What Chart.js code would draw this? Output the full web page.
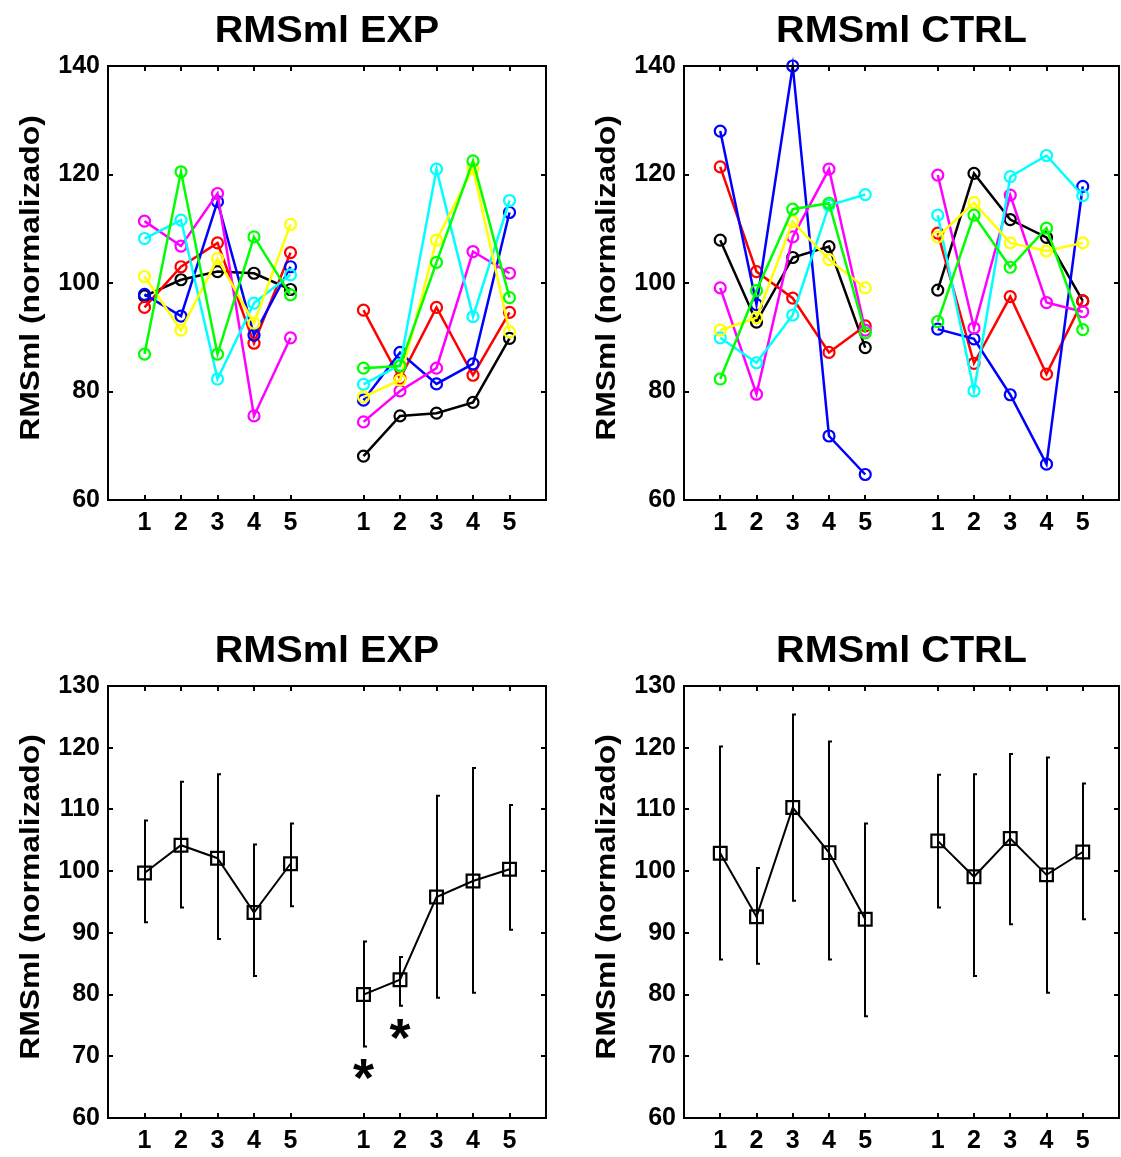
<!DOCTYPE html>
<html><head><meta charset="utf-8">
<script src="https://cdn.jsdelivr.net/npm/chart.js@4.4.1/dist/chart.umd.min.js"></script>
<style>
html,body{margin:0;padding:0;background:#fff;width:1121px;height:1157px;overflow:hidden}
body{position:relative}
canvas{position:absolute}
</style></head><body>
<canvas id="tl" width="560" height="560" style="left:0;top:0"></canvas>
<canvas id="tr" width="546" height="560" style="left:575px;top:0"></canvas>
<canvas id="bl" width="560" height="577" style="left:0;top:580px"></canvas>
<canvas id="br" width="546" height="577" style="left:575px;top:580px"></canvas>
<script>
// ---- data ----
const positions = [1, 2, 3, 4, 5, 7, 8, 9, 10, 11];
const xTickLabels = ['1', '2', '3', '4', '5', '1', '2', '3', '4', '5'];
const yLabel = 'RMSml (normalizado)';
const titleExp = 'RMSml EXP';
const titleCtrl = 'RMSml CTRL';

// individual subjects, EXP (pre 1-5, post 1-5)
const expBlack   = [97.6, 100.6, 102.1, 101.8, 98.8, 68.1, 75.5, 76.0, 78.0, 89.8];
const expRed     = [95.5, 103.0, 107.4, 88.9, 105.6, 95.0, 82.4, 95.5, 83.0, 94.6];
const expBlue    = [97.9, 93.9, 115.0, 90.4, 103.0, 78.4, 87.2, 81.4, 85.1, 113.0];
const expGreen   = [86.9, 120.5, 86.9, 108.5, 97.8, 84.3, 84.7, 103.8, 122.5, 97.3];
const expMagenta = [111.4, 106.8, 116.5, 75.5, 89.9, 74.4, 80.1, 84.3, 105.8, 101.8];
const expCyan    = [108.2, 111.6, 82.3, 96.3, 101.5, 81.3, 84.9, 121.0, 93.8, 115.2];
const expYellow  = [101.2, 91.3, 104.5, 92.6, 110.8, 79.0, 82.1, 107.9, 121.1, 91.0];

// individual subjects, CTRL
const ctrlBlack   = [107.9, 92.8, 104.7, 106.7, 88.1, 98.7, 120.2, 111.7, 108.4, 96.7];
const ctrlRed     = [121.4, 102.1, 97.2, 87.2, 92.1, 109.2, 85.2, 97.5, 83.2, 96.7];
const ctrlBlue    = [128.0, 96.0, 140.0, 71.8, 64.7, 91.5, 89.7, 79.4, 66.6, 117.8];
const ctrlGreen   = [82.3, 98.6, 113.6, 114.7, 90.8, 92.9, 112.5, 102.9, 110.1, 91.4];
const ctrlMagenta = [99.1, 79.5, 108.5, 121.0, 91.3, 119.9, 91.7, 116.2, 96.4, 94.7];
const ctrlCyan    = [89.9, 85.3, 94.1, 114.3, 116.3, 112.5, 80.1, 119.6, 123.5, 116.1];
const ctrlYellow  = [91.3, 93.6, 111.3, 104.3, 99.1, 108.5, 114.8, 107.4, 105.9, 107.4];

// group means and error bar ends
const expMean  = [99.7, 104.2, 102.1, 93.3, 101.2, 80.0, 82.4, 95.8, 98.4, 100.3];
const expUpper = [108.2, 114.5, 115.7, 104.3, 107.7, 88.6, 86.1, 112.2, 116.7, 110.7];
const expLower = [91.7, 94.1, 89.0, 83.0, 94.3, 71.6, 78.2, 79.5, 80.3, 90.5];
const ctrlMean  = [102.9, 92.6, 110.3, 103.0, 92.2, 104.9, 99.1, 105.3, 99.4, 103.1];
const ctrlUpper = [120.2, 100.5, 125.4, 121.0, 107.7, 115.6, 115.7, 119.0, 118.4, 114.2];
const ctrlLower = [85.7, 85.0, 95.2, 85.7, 76.5, 94.1, 83.0, 91.4, 80.3, 92.2];

// significance marks (EXP post 1 and 2)
const starX = [7, 8];
const starY = [67.8, 74.3];
const starText = ['*', '*'];

// ---- styling / helpers ----
const FONT = '"Liberation Sans", Arial, Helvetica, sans-serif';
const TITLE_STRETCH = 1.1;
const YLABEL_STRETCH = 1.18;

function groupPoints(vals, g) {
  const idx = g === 0 ? [0, 1, 2, 3, 4] : [5, 6, 7, 8, 9];
  return idx.map(i => ({ x: positions[i], y: vals[i] }));
}

function subjectDatasets(list) {
  // list ordered bottom -> top; Chart.js draws the first dataset on top
  const ds = [];
  list.slice().reverse().forEach(([vals, color]) => {
    [0, 1].forEach(g => ds.push({
      data: groupPoints(vals, g),
      borderColor: color, backgroundColor: 'rgba(0,0,0,0)',
      borderWidth: 2.5, pointRadius: 5.5, pointBorderWidth: 2.2,
      pointBorderColor: color, pointBackgroundColor: 'rgba(0,0,0,0)',
      pointStyle: 'circle', tension: 0, clip: false
    }));
  });
  return ds;
}

function meanDatasets(vals) {
  return [0, 1].map(g => ({
    data: groupPoints(vals, g),
    borderColor: '#000', backgroundColor: 'rgba(0,0,0,0)',
    borderWidth: 2, pointRadius: 9, pointBorderWidth: 2.2,
    pointBorderColor: '#000', pointBackgroundColor: 'rgba(0,0,0,0)',
    pointStyle: 'rect', tension: 0, clip: false
  }));
}

const framePlugin = {
  id: 'frame',
  afterDatasetsDraw(chart) {
    const { ctx, chartArea: a, scales: { x, y } } = chart;
    ctx.save();
    ctx.strokeStyle = '#000';
    ctx.lineWidth = 2;
    ctx.strokeRect(a.left, a.top, a.right - a.left, a.bottom - a.top);
    ctx.beginPath();
    x.ticks.forEach(t => {
      const px = Math.round(x.getPixelForValue(t.value));
      ctx.moveTo(px, a.bottom); ctx.lineTo(px, a.bottom - 5);
      ctx.moveTo(px, a.top); ctx.lineTo(px, a.top + 5);
    });
    y.ticks.forEach(t => {
      const py = Math.round(y.getPixelForValue(t.value));
      ctx.moveTo(a.left, py); ctx.lineTo(a.left + 5, py);
      ctx.moveTo(a.right, py); ctx.lineTo(a.right - 5, py);
    });
    ctx.stroke();
    ctx.restore();
  }
};

function textPlugin(title) {
  return {
    id: 'panelText',
    afterDraw(chart) {
      const { ctx, chartArea: a } = chart;
      ctx.save();
      ctx.fillStyle = '#000';
      ctx.font = 'bold 36px ' + FONT;
      ctx.textAlign = 'center';
      ctx.textBaseline = 'alphabetic';
      ctx.translate((a.left + a.right) / 2, a.top - 24);
      ctx.scale(TITLE_STRETCH, 1);
      ctx.fillText(title, 0, 0);
      ctx.restore();

      ctx.save();
      ctx.fillStyle = '#000';
      ctx.font = 'bold 27px ' + FONT;
      ctx.textAlign = 'center';
      ctx.textBaseline = 'alphabetic';
      ctx.translate(a.left - 69, (a.top + a.bottom) / 2 - 5);
      ctx.rotate(-Math.PI / 2);
      ctx.scale(YLABEL_STRETCH, 1);
      ctx.fillText(yLabel, 0, 0);
      ctx.restore();
    }
  };
}

function errorPlugin(upper, lower) {
  return {
    id: 'errorBars',
    beforeDatasetsDraw(chart) {
      const { ctx, scales: { x, y } } = chart;
      ctx.save();
      ctx.strokeStyle = '#000';
      ctx.lineWidth = 2;
      ctx.beginPath();
      positions.forEach((p, i) => {
        const px = Math.round(x.getPixelForValue(p));
        const top = y.getPixelForValue(upper[i]);
        const bot = y.getPixelForValue(lower[i]);
        ctx.moveTo(px, top); ctx.lineTo(px, bot);
        ctx.moveTo(px - 1, top); ctx.lineTo(px + 3, top);
        ctx.moveTo(px - 1, bot); ctx.lineTo(px + 3, bot);
      });
      ctx.stroke();
      ctx.restore();
    }
  };
}

const starPlugin = {
  id: 'stars',
  afterDatasetsDraw(chart) {
    const { ctx, scales: { x, y } } = chart;
    ctx.save();
    ctx.fillStyle = '#000';
    ctx.font = 'bold 54px ' + FONT;
    ctx.textAlign = 'center';
    ctx.textBaseline = 'alphabetic';
    starX.forEach((sx, i) => {
      const m = ctx.measureText(starText[i]);
      const mid = (m.actualBoundingBoxAscent - m.actualBoundingBoxDescent) / 2;
      ctx.fillText(starText[i], x.getPixelForValue(sx), y.getPixelForValue(starY[i]) + mid);
    });
    ctx.restore();
  }
};

function makeChart(id, datasets, opts) {
  const c = document.getElementById(id);
  return new Chart(c, {
    type: 'line',
    data: { datasets },
    options: {
      responsive: false, animation: false, devicePixelRatio: 1,
      events: [],
      layout: { autoPadding: false, padding: { top: opts.padTop, right: opts.padRight, left: 0, bottom: 0 } },
      plugins: { legend: { display: false }, tooltip: { enabled: false }, title: { display: false } },
      scales: {
        x: {
          type: 'linear', min: 0, max: 12,
          grid: { display: false, drawTicks: false }, border: { display: false },
          afterBuildTicks: s => { s.ticks = positions.map(v => ({ value: v })); },
          afterFit: s => { s.height = opts.xHeight; s.paddingLeft = 0; s.paddingRight = 0; },
          ticks: {
            autoSkip: false, maxRotation: 0, minRotation: 0, padding: 8, color: '#000',
            font: { family: FONT, size: 25, weight: 'bold' },
            callback: (v, i) => xTickLabels[i]
          }
        },
        y: {
          type: 'linear', min: opts.yMin, max: opts.yMax,
          grid: { display: false, drawTicks: false }, border: { display: false },
          afterFit: s => { s.width = opts.yWidth; },
          ticks: {
            stepSize: opts.yStep, padding: 8, color: '#000',
            font: { family: FONT, size: 25, weight: 'bold' }
          }
        }
      }
    },
    plugins: opts.plugins
  });
}

const expSubjects = [
  [expBlack, '#000000'], [expRed, '#ff0000'], [expBlue, '#0000ff'], [expMagenta, '#ff00ff'],
  [expCyan, '#00ffff'], [expYellow, '#ffff00'], [expGreen, '#00ff00']
];
const ctrlSubjects = [
  [ctrlBlack, '#000000'], [ctrlRed, '#ff0000'], [ctrlBlue, '#0000ff'], [ctrlMagenta, '#ff00ff'],
  [ctrlCyan, '#00ffff'], [ctrlYellow, '#ffff00'], [ctrlGreen, '#00ff00']
];

makeChart('tl', subjectDatasets(expSubjects), {
  padTop: 66, padRight: 14, xHeight: 60, yWidth: 108, yMin: 60, yMax: 140, yStep: 20,
  plugins: [framePlugin, textPlugin(titleExp)]
});
makeChart('tr', subjectDatasets(ctrlSubjects), {
  padTop: 66, padRight: 2, xHeight: 60, yWidth: 109, yMin: 60, yMax: 140, yStep: 20,
  plugins: [framePlugin, textPlugin(titleCtrl)]
});
makeChart('bl', meanDatasets(expMean), {
  padTop: 106, padRight: 14, xHeight: 39, yWidth: 108, yMin: 60, yMax: 130, yStep: 10,
  plugins: [errorPlugin(expUpper, expLower), framePlugin, starPlugin, textPlugin(titleExp)]
});
makeChart('br', meanDatasets(ctrlMean), {
  padTop: 106, padRight: 2, xHeight: 39, yWidth: 109, yMin: 60, yMax: 130, yStep: 10,
  plugins: [errorPlugin(ctrlUpper, ctrlLower), framePlugin, textPlugin(titleCtrl)]
});
</script>
</body></html>
